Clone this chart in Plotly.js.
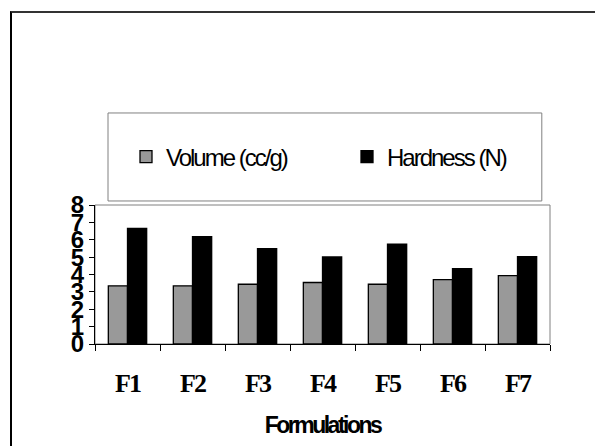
<!DOCTYPE html>
<html>
<head>
<meta charset="utf-8">
<script src="https://cdn.plot.ly/plotly-3.0.1.min.js"></script>
<style>
  html, body { margin: 0; padding: 0; background: #fff; overflow: hidden; }
  #chart { width: 595px; height: 446px; }
  #frame {
    position: absolute; left: 10px; top: 11px; width: 620px; height: 470px;
    border-left: 2px solid #000; border-top: 2px solid #333; pointer-events: none;
  }
</style>
</head>
<body>
<div id="chart"></div>
<div id="frame"></div>
<script>
// Formulations and their measured properties
const formulations = ["F1", "F2", "F3", "F4", "F5", "F6", "F7"];
const volume = [3.35, 3.35, 3.44, 3.54, 3.44, 3.71, 3.94];
const hardness = [6.66, 6.18, 5.49, 5.01, 5.74, 4.34, 5.03];
const yTicks = [0, 1, 2, 3, 4, 5, 6, 7, 8];
const seriesNames = ["Volume (cc/g)", "Hardness (N)"];
const xTitle = "Formulations";

const sans = "'Liberation Sans', Arial, sans-serif";

const traces = [
  {
    type: "bar", name: seriesNames[0], x: formulations, y: volume, legend: "legend",
    marker: { color: "#999999", line: { color: "#000", width: 1.3 } }
  },
  {
    type: "bar", name: seriesNames[1], x: formulations, y: hardness, legend: "legend2",
    marker: { color: "#000000", line: { color: "#000", width: 1.3 } }
  }
];

const legendStyle = (xPaper) => ({
  x: xPaper, xanchor: "left", y: 1.345, yanchor: "middle",
  bgcolor: "rgba(0,0,0,0)", borderwidth: 0,
  font: { family: sans, size: 24, color: "#000" }
});

const layout = {
  width: 595, height: 446,
  margin: { l: 95, r: 45, t: 205, b: 102 },
  paper_bgcolor: "#fff", plot_bgcolor: "#fff",
  barmode: "group", bargap: 0.41, bargroupgap: 0,
  showlegend: true,
  legend: legendStyle((126 - 95) / 455),
  legend2: legendStyle((347 - 95) / 455),
  xaxis: {
    type: "category", tickson: "boundaries", ticks: "outside", ticklen: 6,
    tickcolor: "#000", showline: true, linecolor: "#000", linewidth: 1,
    showgrid: false, zeroline: false, ticklabelstandoff: 16,
    tickfont: { family: "'Liberation Serif', 'Times New Roman', serif", size: 26, color: "#000", weight: "bold" },
    title: { text: xTitle, standoff: 19,
      font: { family: sans, size: 23, color: "#000", weight: "bold" } }
  },
  yaxis: {
    range: [0, 8], tickvals: yTicks, ticktext: yTicks.map(String),
    ticks: "outside", ticklen: 5, tickcolor: "#000",
    showline: true, linecolor: "#000", linewidth: 1,
    showgrid: false, zeroline: false,
    tickfont: { family: sans, size: 24, color: "#000", weight: "bold" }
  },
  shapes: [
    // plot area frame
    { type: "rect", xref: "paper", yref: "paper", x0: 0, x1: 1, y0: 0, y1: 1,
      line: { color: "#808080", width: 1 }, layer: "below" },
    // legend box
    { type: "rect", xref: "paper", yref: "paper", x0: 0.0286, x1: 0.982, y0: 1.029, y1: 1.662,
      line: { color: "#808080", width: 1 } }
  ]
};

// tighten the lettering of the condensed labels once the chart is drawn
function tighten(gd) {
  gd.querySelectorAll("text").forEach(t => {
    const s = t.textContent.trim();
    let px = null;
    if (seriesNames.includes(s)) px = -2;
    else if (s === xTitle) px = -2.5;
    else if (formulations.includes(s)) px = -2;
    if (px !== null) {
      t.style.letterSpacing = px + "px";
      t.setAttribute("letter-spacing", px);
    }
  });
}

Plotly.newPlot("chart", traces, layout, { displayModeBar: false, staticPlot: true })
  .then(gd => { tighten(gd); setTimeout(() => tighten(gd), 50); });
</script>
</body>
</html>
